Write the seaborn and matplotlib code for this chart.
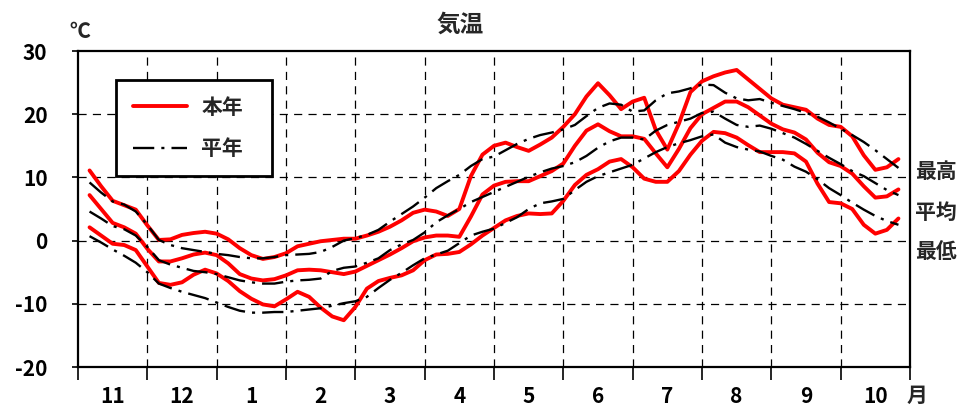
import numpy as np
import matplotlib
matplotlib.use("Agg")
import matplotlib.pyplot as plt
import seaborn as sns
from matplotlib.lines import Line2D

# x positions in months from the start of November (one value every 1/6 month)
pentad = np.arange(1, 72) / 6
month_labels = ['11', '12', '1', '2', '3', '4', '5', '6', '7', '8', '9', '10']

# this year (本年)
this_max = [11.1, 8.6, 6.3, 5.6, 4.9, 2.4, 0.1, 0.2, 0.9, 1.2, 1.4, 1.1,
            0.2, -1.2, -2.3, -2.9, -2.6, -2.0, -0.9, -0.5, -0.1, 0.1, 0.3, 0.3,
            0.8, 1.4, 2.2, 3.2, 4.4, 4.9, 4.6, 3.9, 5.0, 10.2, 13.6, 15.0,
            15.5, 14.8, 14.2, 15.2, 16.3, 18.0, 20.0, 22.8, 24.9, 23.0, 20.8, 22.0,
            22.6, 17.5, 14.4, 18.5, 23.5, 25.2, 26.0, 26.6, 27.0, 25.5, 24.0, 22.5,
            21.5, 21.1, 20.7, 19.3, 18.3, 18.0, 16.5, 13.5, 11.2, 11.6, 12.9]
this_mean = [7.2, 5.0, 2.8, 2.1, 1.1, -1.3, -3.3, -3.3, -2.8, -2.2, -1.9, -2.3,
             -3.6, -5.3, -6.0, -6.3, -6.1, -5.5, -4.7, -4.6, -4.7, -5.0, -5.3, -4.9,
             -4.0, -3.1, -2.2, -1.2, -0.1, 0.5, 0.8, 0.8, 0.6, 3.8, 7.3, 8.7,
             9.3, 9.4, 9.4, 10.2, 11.0, 12.2, 15.0, 17.4, 18.4, 17.3, 16.5, 16.5,
             16.1, 13.8, 11.6, 14.5, 17.8, 20.0, 21.0, 22.0, 22.0, 21.1, 19.8, 18.5,
             17.6, 17.1, 16.0, 13.9, 12.4, 11.8, 10.6, 8.6, 6.8, 7.0, 8.1]
this_min = [2.1, 0.8, -0.5, -0.7, -1.5, -4.1, -6.7, -7.0, -6.6, -5.4, -4.6, -5.2,
            -6.4, -8.0, -9.2, -10.1, -10.4, -9.3, -8.1, -8.9, -10.6, -12.0, -12.6, -10.5,
            -7.6, -6.4, -5.9, -5.5, -4.7, -3.1, -2.2, -2.1, -1.8, -0.6, 0.8, 2.0,
            3.2, 3.9, 4.3, 4.2, 4.3, 6.3, 8.8, 10.4, 11.3, 12.5, 12.9, 11.6,
            9.8, 9.3, 9.3, 11.0, 13.6, 15.8, 17.2, 17.0, 16.3, 15.1, 14.0, 14.0,
            14.0, 13.8, 12.5, 9.0, 6.1, 5.9, 5.0, 2.5, 1.1, 1.7, 3.5]

# normal year (平年)
norm_max = [9.2, 7.6, 6.2, 5.7, 4.6, 2.5, 0.1, -0.7, -1.2, -1.5, -1.8, -2.1,
            -2.3, -2.6, -2.8, -2.8, -2.6, -2.3, -2.2, -2.1, -1.8, -1.0, 0.0, 0.4,
            0.9, 1.7, 3.0, 4.2, 5.4, 6.8, 8.3, 9.4, 10.4, 11.8, 12.9, 13.3,
            14.3, 15.3, 16.1, 16.7, 17.1, 17.6, 18.3, 19.7, 21.0, 21.7, 21.5, 20.4,
            20.6, 22.2, 23.3, 23.6, 24.1, 24.7, 24.6, 23.4, 22.5, 22.2, 22.4, 21.8,
            21.3, 20.8, 20.2, 19.6, 18.7, 17.7, 16.7, 15.6, 14.3, 12.9, 11.5]
norm_mean = [4.6, 3.5, 2.3, 1.8, 0.8, -1.0, -3.1, -3.8, -4.3, -4.8, -5.0, -5.3,
             -5.8, -6.3, -6.6, -6.8, -6.8, -6.5, -6.3, -6.2, -6.0, -4.8, -4.3, -4.1,
             -3.5, -2.8, -1.5, -0.6, 0.1, 1.3, 2.9, 4.0, 5.0, 6.1, 6.9, 7.7,
             8.5, 9.3, 10.1, 10.8, 11.4, 11.8, 12.4, 13.4, 14.7, 15.7, 16.3, 16.3,
             16.0, 17.4, 18.3, 18.8, 19.3, 20.2, 20.4, 19.3, 18.3, 18.0, 18.2, 17.7,
             17.0, 16.3, 15.3, 14.2, 13.1, 12.1, 11.0, 10.2, 9.1, 8.0, 7.2]
norm_min = [0.7, -0.3, -1.4, -2.4, -3.5, -5.0, -6.8, -7.5, -8.1, -8.6, -9.1, -9.8,
            -10.5, -11.1, -11.4, -11.4, -11.3, -11.3, -11.1, -10.9, -10.7, -10.3, -9.9, -9.6,
            -8.9, -7.5, -6.2, -5.1, -3.9, -2.8, -2.2, -1.6, -0.4, 0.8, 1.4, 1.9,
            2.8, 3.7, 5.0, 5.9, 6.2, 6.6, 8.0, 9.3, 10.2, 10.8, 11.4, 12.0,
            13.0, 14.0, 14.8, 15.4, 15.9, 16.5, 16.8, 15.5, 14.8, 14.4, 14.1, 13.4,
            12.8, 11.7, 10.9, 9.7, 8.3, 7.2, 6.0, 4.9, 3.9, 3.1, 2.5]

sns.set_theme(style="white")
plt.rcParams['font.family'] = ['Noto Sans CJK JP', 'DejaVu Sans']
plt.rcParams['font.weight'] = 'bold'
plt.rcParams['axes.unicode_minus'] = True

RED = '#ff0000'
DASHDOT = (0, (9, 3, 1.3, 3))

fig = plt.figure(figsize=(9.62, 4.08), dpi=100)
ax = fig.add_axes([78 / 962, 41 / 408, 832 / 962, 316 / 408])

for vals in [this_max, this_mean, this_min]:
    sns.lineplot(x=pentad, y=vals, color=RED, linewidth=2.8, ax=ax, zorder=3,
                 solid_joinstyle='round', solid_capstyle='round')
for vals in [norm_max, norm_mean, norm_min]:
    sns.lineplot(x=pentad, y=vals, color='black', linewidth=1.7,
                 linestyle=DASHDOT, ax=ax, zorder=4)

ax.set_xlim(0, 12)
ax.set_ylim(-20, 30)
ax.set_xlabel('')
ax.set_ylabel('')

# dashed grid at month boundaries and every 10 degrees
ax.vlines(range(1, 12), -20, 30, colors='black', linestyles=[(0, (6.5, 5))],
          linewidth=0.9, zorder=2)
ax.hlines([-10, 0, 10, 20], 0, 12, colors='black', linestyles=[(0, (6.5, 5))],
          linewidth=0.9, zorder=2)

# month boundaries as major ticks, month names centred between them
ax.set_xticks(range(13))
ax.set_xticklabels([])
ax.set_xticks(np.arange(12) + 0.5, minor=True)
ax.set_xticklabels(month_labels, minor=True, fontsize=15, fontweight='bold')
ax.tick_params(axis='x', which='major', bottom=True, direction='out',
               length=9, width=1.2, color='black')
ax.tick_params(axis='x', which='minor', bottom=True, length=0, pad=14, colors='black')

ax.set_yticks(range(-20, 31, 10))
ax.set_yticklabels([str(v) for v in range(-20, 31, 10)], fontsize=15, fontweight='bold')
ax.tick_params(axis='y', left=True, direction='out', length=4, width=1.2,
               color='black', pad=18, labelcolor='black')

for sp in ax.spines.values():
    sp.set_color('black')
    sp.set_linewidth(1.6)
    sp.set_zorder(5)

# legend
handles = [Line2D([], [], color=RED, linewidth=2.8),
           Line2D([], [], color='black', linewidth=1.7, linestyle=DASHDOT)]
leg = ax.legend(handles, ['本年', '平年'], loc='upper left',
                bbox_to_anchor=(0.0457, 0.6076, 0.1875, 0.3006), mode='expand',
                borderaxespad=0, fancybox=False, framealpha=1, frameon=True,
                prop={'size': 15, 'weight': 'bold'}, handlelength=2.6,
                handletextpad=0.7, borderpad=0.8, labelspacing=0.98)
leg.get_frame().set_edgecolor('black')
leg.get_frame().set_linewidth(2)
leg.set_zorder(6)

# labels on the right of the curves
trans = ax.get_yaxis_transform()
ax.text(1.006, 10.9, '最高', transform=trans, ha='left', va='center', fontsize=15, fontweight='bold')
ax.text(1.006, 4.5, '平均', transform=trans, ha='left', va='center', fontsize=15, fontweight='bold')
ax.text(1.006, -1.8, '最低', transform=trans, ha='left', va='center', fontsize=15, fontweight='bold')

fig.text(460 / 962, 1 - 25 / 408, '気温', ha='center', va='center', fontsize=17, fontweight='bold')
fig.text(80 / 962, 1 - 32 / 408, '℃', ha='center', va='center', fontsize=15, fontweight='bold')
fig.text(917 / 962, 1 - 395 / 408, '月', ha='center', va='center', fontsize=15, fontweight='bold')

fig.savefig('out.png', dpi=100, facecolor='white')
